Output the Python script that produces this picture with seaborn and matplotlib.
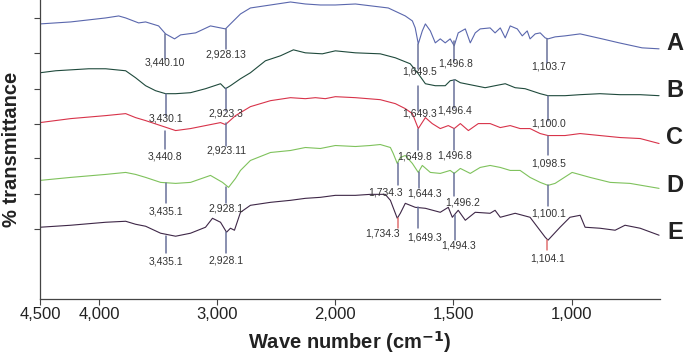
import matplotlib
matplotlib.use('Agg')
import matplotlib.pyplot as plt
import numpy as np
import pandas as pd
import seaborn as sns

# wave numbers (cm-1) and transmittance (arbitrary units, offset per sample)
wn_A = [4500, 4240, 3944, 3834, 3775, 3665, 3606, 3496, 3437, 3361, 3310, 3183, 3057, 2930, 2888,
        2803, 2719, 2549, 2380, 2254, 2127, 2000, 1915, 1776, 1704, 1674, 1662, 1649, 1632, 1619,
        1598, 1577, 1556, 1535, 1514, 1497, 1480, 1450, 1429, 1408, 1387, 1345, 1324, 1302, 1281,
        1260, 1230, 1209, 1188, 1176, 1154, 1133, 1112, 1100, 1070, 1028, 964, 871, 799, 702, 630]
t_A = [276, 278, 282, 284, 282, 277, 278, 274, 266, 261, 265, 267, 274, 271, 276,
       286, 292, 295, 298, 296, 295, 295, 296, 292, 284, 279, 272, 256, 269, 276,
       269, 257, 261, 257, 261, 254, 267, 271, 257, 267, 271, 272, 267, 272, 262,
       274, 271, 264, 269, 261, 266, 267, 262, 261, 263, 264, 266, 261, 257, 252, 251]

wn_B = [4500, 4367, 4088, 3944, 3775, 3691, 3606, 3522, 3437, 3352, 3226, 3099, 2972, 2930, 2888,
        2803, 2719, 2592, 2465, 2355, 2254, 2110, 2000, 1915, 1810, 1746, 1683, 1649, 1619, 1577,
        1535, 1514, 1493, 1471, 1408, 1366, 1324, 1281, 1239, 1197, 1133, 1100, 1028, 964, 880,
        795, 710, 630]
t_B = [227, 229, 231, 231, 229, 222, 214, 209, 206, 206, 207, 211, 216, 211, 214,
       221, 227, 239, 244, 250, 247, 246, 249, 247, 246, 242, 236, 226, 216, 214,
       214, 219, 220, 217, 214, 212, 214, 216, 212, 211, 206, 204, 204, 205, 206,
       205, 205, 204]

wn_C = [4500, 4240, 3944, 3775, 3691, 3606, 3479, 3352, 3226, 3099, 2972, 2930, 2845, 2719, 2549,
        2380, 2254, 2169, 2085, 2000, 1915, 1810, 1746, 1704, 1674, 1649, 1619, 1590, 1556, 1522,
        1497, 1471, 1437, 1395, 1345, 1302, 1260, 1218, 1176, 1133, 1100, 1028, 964, 880, 795,
        710, 630]
t_C = [177, 181, 184, 186, 182, 179, 174, 169, 171, 174, 177, 175, 184, 193, 199,
       202, 201, 202, 201, 203, 202, 200, 196, 191, 186, 171, 182, 176, 171, 174,
       171, 176, 169, 176, 176, 172, 174, 171, 171, 166, 164, 164, 166, 164, 162,
       161, 156]

wn_D = [4500, 4240, 3944, 3775, 3691, 3606, 3479, 3352, 3226, 3057, 2955, 2904, 2845, 2803, 2719,
        2549, 2380, 2254, 2127, 2000, 1915, 1852, 1810, 1767, 1755, 1738, 1725, 1704, 1674, 1649,
        1632, 1598, 1556, 1514, 1497, 1471, 1429, 1387, 1345, 1302, 1260, 1218, 1176, 1133, 1100,
        1070, 998, 922, 837, 753, 630]
t_D = [119, 122, 125, 127, 125, 122, 117, 116, 117, 124, 117, 112, 121, 129, 139,
       147, 149, 152, 151, 154, 153, 154, 155, 152, 146, 136, 142, 144, 136, 127,
       134, 127, 126, 129, 126, 131, 126, 132, 134, 132, 129, 129, 122, 117, 114,
       116, 127, 122, 117, 116, 111]

wn_E = [4500, 4240, 3944, 3775, 3691, 3606, 3479, 3352, 3226, 3099, 3040, 2972, 2921, 2888, 2854,
        2803, 2719, 2549, 2380, 2254, 2127, 2000, 1915, 1852, 1789, 1767, 1738, 1725, 1704, 1662,
        1619, 1556, 1522, 1505, 1480, 1450, 1408, 1345, 1324, 1302, 1239, 1176, 1112, 1100, 1049,
        1007, 964, 943, 880, 816, 774, 710, 630]
t_E = [72, 74, 77, 78, 75, 73, 66, 63, 66, 72, 81, 77, 67, 71, 69,
       87, 94, 97, 99, 101, 102, 104, 104, 105, 105, 99, 81, 86, 96, 92,
       91, 87, 92, 82, 89, 79, 87, 86, 89, 82, 86, 82, 62, 59, 72,
       82, 84, 72, 71, 69, 74, 71, 64]

samples = ['A', 'B', 'C', 'D', 'E']
colors = ['#5a67ad', '#1f4a3c', '#d8334a', '#7fc25c', '#3e2747']

# peak labels: (sample, wave number, top of line, bottom of line, label y, label x shift px, red line)
peaks = [
    ('A', 3440.10, 266, 241, 237, 0, False, '3,440.10'),
    ('A', 2928.13, 271, 251, 245, 0, False, '2,928.13'),
    ('A', 1649.5, 256, 231, 228, 1, False, '1,649.5'),
    ('A', 1496.8, 259, 239, 236, 1, False, '1,496.8'),
    ('A', 1103.7, 261, 237, 233, 1, False, '1,103.7'),
    ('B', 3430.1, 206, 184, 181, 0, False, '3,430.1'),
    ('B', 2923.3, 212, 189, 186, 0, False, '2,923.3'),
    ('B', 1649.3, 214, 189, 186, 1, False, '1,649.3'),
    ('B', 1496.4, 220, 192, 189, 0, False, '1,496.4'),
    ('B', 1100.0, 204, 179, 176, 1, False, '1,100.0'),
    ('C', 3440.8, 169, 151, 143, 0, False, '3,440.8'),
    ('C', 2923.11, 177, 154, 149, 0, False, '2,923.11'),
    ('C', 1649.8, 171, 149, 143, -3, False, '1,649.8'),
    ('C', 1496.8, 171, 149, 144, 0, False, '1,496.8'),
    ('C', 1098.5, 164, 144, 136, 0, False, '1,098.5'),
    ('D', 3435.1, 116, 96, 88, 0, False, '3,435.1'),
    ('D', 2928.1, 112, 96, 91, 0, False, '2,928.1'),
    ('D', 1734.3, 136, 114, 107, -13, False, '1,734.3'),
    ('D', 1644.3, 127, 111, 106, 5, False, '1,644.3'),
    ('D', 1496.2, 126, 103, 97, 8, False, '1,496.2'),
    ('D', 1100.1, 114, 93, 86, 1, False, '1,100.1'),
    ('E', 3435.1, 63, 46, 38, 0, False, '3,435.1'),
    ('E', 2928.1, 67, 46, 39, 0, False, '2,928.1'),
    ('E', 1734.3, 81, 71, 66, -16, True, '1,734.3'),
    ('E', 1649.3, 92, 71, 62, 6, False, '1,649.3'),
    ('E', 1494.3, 84, 59, 54, 4, False, '1,494.3'),
    ('E', 1104.1, 59, 49, 41, 1, True, '1,104.1'),
]
letter_y = [256, 209, 162, 114, 67]

frames = []
for s, w, t in zip(samples, [wn_A, wn_B, wn_C, wn_D, wn_E], [t_A, t_B, t_C, t_D, t_E]):
    frames.append(pd.DataFrame({'wavenumber': w, 'transmittance': t, 'sample': s}))
df = pd.concat(frames, ignore_index=True)

sns.set_theme(style='ticks')
plt.rcParams['font.family'] = ['Liberation Sans', 'DejaVu Sans']

fig = plt.figure(figsize=(6.84, 3.58), dpi=100)
ax = fig.add_axes([40 / 684, 59 / 358, 620 / 684, 299 / 358])


# x axis is compressed by half above 2,000 cm-1
def fwd(x):
    x = np.asarray(x, dtype=float)
    return np.where(x <= 2000, x, 2000 + (x - 2000) / 2)


def inv(x):
    x = np.asarray(x, dtype=float)
    return np.where(x <= 2000, x, 2000 + (x - 2000) * 2)


ax.set_xscale('function', functions=(fwd, inv))

sns.lineplot(data=df, x='wavenumber', y='transmittance', hue='sample', hue_order=samples,
             palette=colors, estimator=None, legend=False, linewidth=0.8, ax=ax)

for s, w, top, bot, ly, dx, red, txt in peaks:
    lc = '#e07272' if red else '#69729a'
    ax.plot([w, w], [top, bot], color=lc, linewidth=1.1)
    ax.annotate(txt, xy=(w, ly), xytext=(dx * 0.72, 0), textcoords='offset points',
                ha='center', va='center', fontsize=7.5, color='#333333')

for s, y in zip(samples, letter_y):
    ax.text(1.024, y, s, transform=ax.get_yaxis_transform(), ha='center', va='center',
            fontsize=17, fontweight='bold', color='#222222')

ax.set_xlim(4500, 626)
ax.set_ylim(0, 300)
xt = [4500, 4000, 3000, 2000, 1500, 1000]
ax.set_xticks(xt)
ax.set_xticklabels(['{:,}'.format(v) for v in xt])
ax.set_yticks([70, 105, 141, 176, 211, 247, 282])
ax.set_yticklabels([])
ax.tick_params(axis='x', length=4, width=0.8, labelsize=12, colors='#444444', labelcolor='#222222', pad=2)
ax.tick_params(axis='y', length=4, width=0.8, colors='#444444')
ax.minorticks_off()
for side in ['top', 'right']:
    ax.spines[side].set_visible(False)
for side in ['left', 'bottom']:
    ax.spines[side].set_color('#444444')
    ax.spines[side].set_linewidth(0.9)

ax.set_xlabel('Wave number (cm$^{\\mathbf{-1}}$)', fontsize=14.5, fontweight='bold', color='#222222', labelpad=5)
ax.set_ylabel('% transmittance', fontsize=14.5, fontweight='bold', color='#222222', labelpad=6)

fig.savefig('out.png', dpi=100)
